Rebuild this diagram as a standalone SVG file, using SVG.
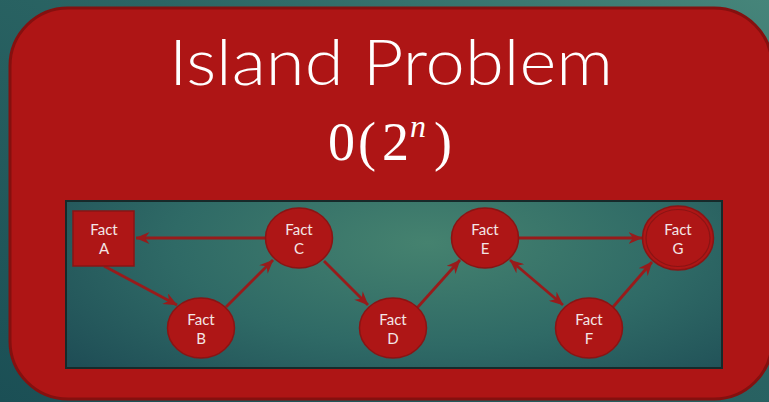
<svg xmlns="http://www.w3.org/2000/svg" width="769" height="402" viewBox="0 0 769 402">
  <defs>
    <linearGradient id="bg" x1="0" y1="1" x2="1" y2="0">
      <stop offset="0" stop-color="#1b4f55"/>
      <stop offset="0.6" stop-color="#2b6564"/>
      <stop offset="1" stop-color="#46857a"/>
    </linearGradient>
    <radialGradient id="panel" cx="0.55" cy="0.25" r="0.7" gradientTransform="matrix(1 0 0 1.6 0 -0.15)">
      <stop offset="0" stop-color="#45826f"/>
      <stop offset="0.55" stop-color="#2f6a66"/>
      <stop offset="1" stop-color="#1f4e56"/>
    </radialGradient>
    <marker id="ah" viewBox="0 0 14 12" refX="13.5" refY="6" markerWidth="14" markerHeight="12" markerUnits="userSpaceOnUse" orient="auto-start-reverse">
      <path d="M0,0 L14,6 L0,12 L4.5,6 Z" fill="#981b1b"/>
    </marker>
    <style>
      .node { fill: #ae1616; stroke: #8a1414; stroke-width: 1.5; }
      .lbl { font-family: Lato, "Liberation Sans", Arial, sans-serif; font-size: 15px; fill: #f3e6e6; text-anchor: middle; }
      .edge { stroke: #981b1b; stroke-width: 2.8; fill: none; marker-end: url(#ah); }
      .title { font-family: Lato, "Open Sans", "Liberation Sans", sans-serif; font-weight: 300; font-size: 63px; fill: #ffffff; }
      .math { font-family: "Liberation Serif", "DejaVu Serif", serif; font-size: 54px; fill: #ffffff; }
    </style>
  </defs>

  <rect x="0" y="0" width="769" height="402" fill="url(#bg)"/>
  <rect x="10" y="8" width="762" height="391" rx="58" ry="58" fill="#ae1515" stroke="#85100f" stroke-width="3"/>

  <text class="title" x="391" y="85" text-anchor="middle" textLength="444" lengthAdjust="spacingAndGlyphs">Island Problem</text>
  <text class="math"><tspan x="328" y="160">0</tspan><tspan x="358" y="160">(</tspan><tspan x="382" y="160">2</tspan><tspan x="410" y="137" font-size="32" font-style="italic">n</tspan><tspan x="434" y="160">)</tspan></text>

  <rect x="66" y="201" width="656" height="167" fill="url(#panel)" stroke="#162a2a" stroke-width="2"/>

  <g id="connectors">
    <line class="edge" x1="266" y1="238" x2="136" y2="238"/>
    <line class="edge" x1="104" y1="266" x2="177" y2="305"/>
    <line class="edge" x1="226" y1="307" x2="273" y2="260"/>
    <line class="edge" x1="324" y1="261" x2="368" y2="305"/>
    <line class="edge" x1="417" y1="308" x2="460" y2="260"/>
    <line class="edge" x1="519" y1="238" x2="642" y2="238"/>
    <line class="edge" x1="510" y1="260" x2="563" y2="305" marker-start="url(#ah)"/>
    <line class="edge" x1="613" y1="307" x2="652" y2="262"/>
  </g>

  <g id="fact-a">
    <rect class="node" x="73" y="211" width="61" height="55"/>
    <text class="lbl" x="104" y="235">Fact</text>
    <text class="lbl" x="104" y="253.5">A</text>
  </g>
  <g id="fact-b">
    <ellipse class="node" cx="201" cy="328" rx="33.5" ry="30"/>
    <text class="lbl" x="201" y="325">Fact</text>
    <text class="lbl" x="201" y="343.5">B</text>
  </g>
  <g id="fact-c">
    <ellipse class="node" cx="299" cy="238" rx="33.5" ry="30"/>
    <text class="lbl" x="299" y="235">Fact</text>
    <text class="lbl" x="299" y="253.5">C</text>
  </g>
  <g id="fact-d">
    <ellipse class="node" cx="393" cy="328" rx="33.5" ry="30"/>
    <text class="lbl" x="393" y="325">Fact</text>
    <text class="lbl" x="393" y="343.5">D</text>
  </g>
  <g id="fact-e">
    <ellipse class="node" cx="485" cy="238" rx="33.5" ry="30"/>
    <text class="lbl" x="485" y="235">Fact</text>
    <text class="lbl" x="485" y="253.5">E</text>
  </g>
  <g id="fact-f">
    <ellipse class="node" cx="589" cy="328" rx="33.5" ry="30"/>
    <text class="lbl" x="589" y="325">Fact</text>
    <text class="lbl" x="589" y="343.5">F</text>
  </g>
  <g id="fact-g">
    <ellipse class="node" cx="678" cy="238" rx="35.5" ry="32"/>
    <ellipse cx="678" cy="238" rx="32" ry="28.5" fill="none" stroke="#8a1414" stroke-width="1.2"/>
    <text class="lbl" x="678" y="235">Fact</text>
    <text class="lbl" x="678" y="253.5">G</text>
  </g>
</svg>
